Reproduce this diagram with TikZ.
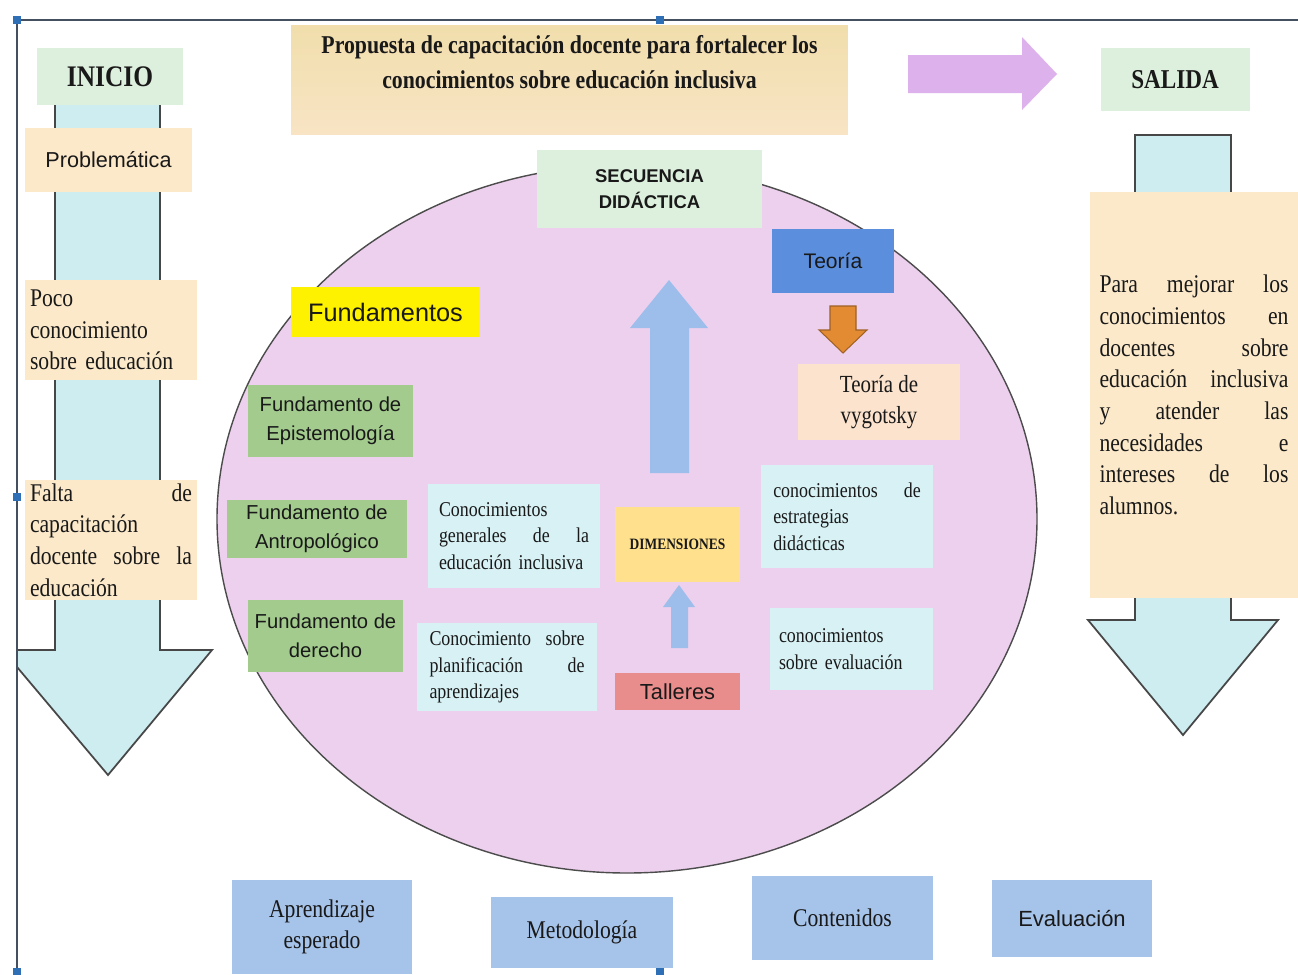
\documentclass[tikz,border=0pt]{standalone}
\usepackage{fontspec}
\setmainfont{Liberation Serif}[FakeStretch=0.85]
\setsansfont{Liberation Sans}
\usetikzlibrary{positioning}
\definecolor{mint}{RGB}{221,240,221}
\definecolor{peach}{RGB}{252,233,202}
\definecolor{sand}{RGB}{241,222,172}
\definecolor{sandlight}{RGB}{248,228,196}
\definecolor{aqua}{RGB}{205,237,241}
\definecolor{lilac}{RGB}{237,208,238}
\definecolor{violet}{RGB}{221,178,236}
\definecolor{leaf}{RGB}{162,203,141}
\definecolor{lemon}{RGB}{255,242,0}
\definecolor{honey}{RGB}{255,224,140}
\definecolor{salmon}{RGB}{233,140,140}
\definecolor{royal}{RGB}{91,143,222}
\definecolor{skin}{RGB}{252,227,206}
\definecolor{sky}{RGB}{157,190,235}
\definecolor{steel}{RGB}{166,195,234}
\definecolor{amber}{RGB}{227,139,51}
\definecolor{frameline}{RGB}{68,80,95}
\definecolor{handle}{RGB}{47,111,181}
\newcommand{\fsz}[2]{\fontsize{#1}{#2}\selectfont}
\newcommand{\jgap}{\hspace{0pt plus 1filll}}

\begin{document}
\begin{tikzpicture}[
    x=0.02cm, y=-0.02cm,
    sz/.style 2 args={minimum width=#1cm, minimum height=#2cm},
    box/.style={rectangle, inner sep=0pt, align=center, text=black!90},
    greenbox/.style={box, fill=mint},
    peachbox/.style={box, fill=peach},
    fundbox/.style={box, fill=leaf, font=\sffamily\fsz{11.5}{16.5}},
    aquabox/.style={box, fill=aqua!80, align=left, font=\fsz{12}{15}},
    steelbox/.style={box, fill=steel, font=\fsz{14.5}{18}},
    arrowfill/.style={fill=aqua, draw=black!72, line width=1pt},
    handlebox/.style={fill=handle, minimum size=0.16cm, inner sep=0pt}
]
    \useasboundingbox (0,0) rectangle (1298,974);
    \fill[white] (0,0) rectangle (1298,974);

    % Block arrows behind the boxes
    \filldraw[arrowfill] (160,100) -- (160,650) -- (212,650) -- (108,775) -- (17,667)
        -- (17,650) -- (55,650) -- (55,100) -- cycle;
    \filldraw[arrowfill] (1135,135) -- (1231,135) -- (1231,620) -- (1278,620) -- (1183,735)
        -- (1088,620) -- (1135,620) -- cycle;
    \fill[violet] (908,55) -- (1022,55) -- (1022,37) -- (1057,74) -- (1022,110) -- (1022,93)
        -- (908,93) -- cycle;

    % Frame with handles
    \draw[frameline, line width=0.9pt] (17,974) -- (17,20) -- (1298,20);
    \node[handlebox] (h1) at (17,20) {};
    \node[handlebox] (h2) at (660,20) {};
    \node[handlebox] (h3) at (17,497) {};
    \node[handlebox] (h4) at (17,972) {};
    \node[handlebox] (h5) at (660,972) {};

    % Inicio
    \node[greenbox, sz={2.92}{1.14}, font=\bfseries\fsz{17}{18}] (inicio) at (110,76.5) {INICIO};
    \node[peachbox, sz={3.34}{1.28}, font=\sffamily\fsz{12.3}{15}] (probl) at (108.5,160) {Problemática};
    \node[peachbox, sz={3.44}{2.0}, text width=3.24cm, align=left, font=\fsz{14.5}{18}] (poco) at (111,330)
        {Poco\\conocimiento\\sobre educación};
    \node[peachbox, sz={3.44}{2.4}, text width=3.24cm, align=left, font=\fsz{14.5}{18}] (falta) at (111,540)
        {Falta \jgap de\\capacitación\\docente \jgap sobre \jgap la\\educación};

    % Title
    \node[box, sz={11.14}{2.2}, top color=sand, bottom color=sandlight] (titlebox) at (569.5,80) {};
    \node[box, font=\bfseries\fsz{14.6}{19.8}] (title) at (569.5,62)
        {Propuesta de capacitación docente para fortalecer los\\conocimientos sobre educación inclusiva};

    % Salida
    \node[greenbox, sz={2.98}{1.28}, font=\bfseries\fsz{15.5}{18}] (salida) at (1175,79.5) {SALIDA};
    \node[peachbox, sz={4.16}{8.12}, text width=3.78cm, align=left, font=\fsz{14.5}{18}] (fin) at (1194,395)
        {Para \jgap mejorar \jgap los\\conocimientos \jgap en\\docentes \jgap sobre\\educación \jgap inclusiva\\
         y \jgap atender \jgap las\\necesidades \jgap e\\intereses \jgap de \jgap los\\alumnos.};

    % Secuencia didactica
    \filldraw[fill=lilac, draw=black!70, line width=0.8pt] (627,519) ellipse [x radius=410, y radius=354];
    \node[greenbox, sz={4.5}{1.56}, font=\sffamily\bfseries\fsz{10.5}{14.7}] (secuencia) at (649.5,189)
        {SECUENCIA\\DIDÁCTICA};

    \fill[sky] (650,473) -- (650,328) -- (630,328) -- (669,280) -- (708,328) -- (689,328) -- (689,473) -- cycle;
    \fill[sky] (671,648) -- (671,607) -- (663,607) -- (679,585) -- (695,607) -- (688,607) -- (688,648) -- cycle;
    \filldraw[fill=amber, draw=amber!70!black, line width=0.6pt] (830,306) -- (856,306) -- (856,330) -- (867,330)
        -- (843,353) -- (819,330) -- (830,330) -- cycle;

    \node[box, fill=royal, sz={2.44}{1.28}, font=\sffamily\fsz{12}{15}] (teoria) at (833,261) {Teoría};
    \node[box, fill=skin, sz={3.24}{1.52}, font=\fsz{14}{18}] (vygotsky) at (879,402) {Teoría de\\vygotsky};

    \node[box, fill=lemon, sz={3.78}{1.0}, font=\sffamily\fsz{14.4}{17}] (fundamentos) at (385.5,312) {Fundamentos};
    \node[fundbox, sz={3.3}{1.44}] (epist) at (330.5,421) {Fundamento de\\Epistemología};
    \node[fundbox, sz={3.6}{1.16}] (antrop) at (317,529) {Fundamento de\\Antropológico};
    \node[fundbox, sz={3.1}{1.44}] (derecho) at (325.5,636) {Fundamento de\\derecho};

    \node[aquabox, sz={3.44}{2.08}, text width=3.0cm] (generales) at (514,536)
        {Conocimientos\\generales \jgap de \jgap la\\educación inclusiva};
    \node[aquabox, sz={3.6}{1.76}, text width=3.1cm] (planif) at (507,667)
        {Conocimiento \jgap sobre\\planificación \jgap de\\aprendizajes};
    \node[aquabox, sz={3.44}{2.06}, text width=2.95cm] (estrategias) at (847,516.5)
        {conocimientos \jgap de\\estrategias\\didácticas};
    \node[aquabox, sz={3.26}{1.64}, text width=2.9cm] (evalconoc) at (851.5,649)
        {conocimientos\\sobre evaluación};

    \node[box, fill=honey, sz={2.5}{1.5}, font=\bfseries\fsz{9}{11}] (dimensiones) at (677.5,544.5) {DIMENSIONES};
    \node[box, fill=salmon, sz={2.5}{0.74}, font=\sffamily\fsz{12.4}{15}] (talleres) at (677.5,691.5) {Talleres};

    % Elementos de la secuencia
    \node[steelbox, sz={3.6}{1.88}] (aprendizaje) at (322,927) {Aprendizaje\\esperado};
    \node[steelbox, sz={3.64}{1.42}] (metodologia) at (582,932.5) {Metodología};
    \node[steelbox, sz={3.62}{1.68}] (contenidos) at (842.5,918) {Contenidos};
    \node[steelbox, sz={3.2}{1.54}, font=\sffamily\fsz{12.5}{15}] (evaluacion) at (1072,918.5) {Evaluación};
\end{tikzpicture}
\end{document}
